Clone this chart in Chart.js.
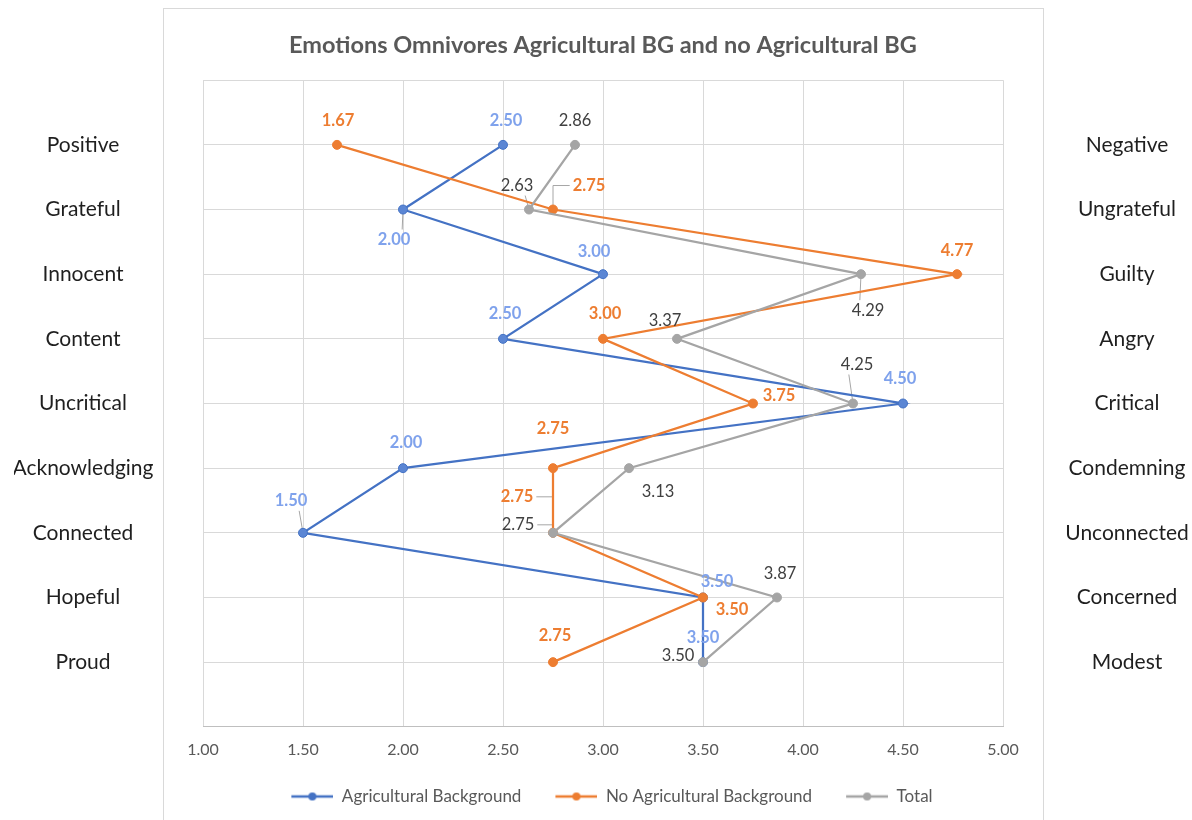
<!DOCTYPE html>
<html>
<head>
<meta charset="utf-8">
<title>Emotions Omnivores Agricultural BG and no Agricultural BG</title>
<script src="https://cdn.jsdelivr.net/npm/chart.js"></script>
<style>
  html, body { margin: 0; padding: 0; background: #fff; }
  #wrap { position: relative; width: 1192px; height: 820px; overflow: hidden; }
  #frame { position: absolute; left: 163px; top: 8px; width: 879px; height: 830px; border: 1px solid #d9d9d9; }
  canvas { position: absolute; left: 0; top: 0; }
</style>
</head>
<body>
<div id="wrap">
  <div id="frame"></div>
  <canvas id="chart" width="1192" height="820"></canvas>
</div>
<script>
const leftLabels = ['Positive', 'Grateful', 'Innocent', 'Content', 'Uncritical', 'Acknowledging', 'Connected', 'Hopeful', 'Proud'];
const rightLabels = ['Negative', 'Ungrateful', 'Guilty', 'Angry', 'Critical', 'Condemning', 'Unconnected', 'Concerned', 'Modest'];
const agricultural = [2.50, 2.00, 3.00, 2.50, 4.50, 2.00, 1.50, 3.50, 3.50];
const noAgricultural = [1.67, 2.75, 4.77, 3.00, 3.75, 2.75, 2.75, 3.50, 2.75];
const total = [2.86, 2.63, 4.29, 3.37, 4.25, 3.13, 2.75, 3.87, 3.50];
const xTicks = [1.00, 1.50, 2.00, 2.50, 3.00, 3.50, 4.00, 4.50, 5.00];
const seriesNames = ['Agricultural Background', 'No Agricultural Background', 'Total'];

// label offsets from the point [dx, dy, leader] (leader: 1 straight, 2 elbow)
const agrLabelPos = [[3, -24], [-9, 30, 1], [-9, -23], [2, -25], [-3, -25], [3, -25], [-12, -32, 1], [14, -16], [0, -24]];
const noAgrLabelPos = [[1, -24], [36, -24, 2], [0, -24], [2, -25], [26, -8], [0, -39], [-36, -36, 2], [29, 12], [2, -26]];
const totalLabelPos = [[0, -24], [-12, -24, 1], [7, 36, 1], [-12, -18], [4, -39, 1], [29, 24], [-35, -8, 2], [3, -24], [-25, -6]];

const fontFamily = 'Lato, "Open Sans", sans-serif';
const catSize = 21;
const labelSize = 16.5;

function widest(labels) {
  const c = document.createElement('canvas').getContext('2d');
  c.font = catSize + 'px ' + fontFamily;
  return Math.max(...labels.map(t => c.measureText(t).width));
}
const leftW = widest(leftLabels);
const rightW = widest(rightLabels);

const n = leftLabels.length;
const toPoints = arr => arr.map((v, i) => ({ x: v, y: n - i }));

// legend symbol: blank lead-in, then line with a dot
function legendIcon(color) {
  const c = document.createElement('canvas');
  c.width = 60; c.height = 10;
  const g = c.getContext('2d');
  g.strokeStyle = color; g.lineWidth = 2.5;
  g.beginPath(); g.moveTo(18, 5); g.lineTo(60, 5); g.stroke();
  g.fillStyle = color;
  g.beginPath(); g.arc(39, 5, 4, 0, Math.PI * 2); g.fill();
  return c;
}

const dataLabels = {
  id: 'dataLabels',
  beforeDatasetsDraw(chart) {
    const ctx = chart.ctx;
    ctx.save();
    ctx.strokeStyle = '#a6a6a6';
    ctx.lineWidth = 1;
    chart.data.datasets.forEach((ds, di) => {
      const meta = chart.getDatasetMeta(di);
      ctx.font = (ds.labelBold ? 'bold ' : '') + labelSize + 'px ' + fontFamily;
      meta.data.forEach((pt, i) => {
        const [dx, dy, leader] = ds.labelPos[i];
        if (!leader) return;
        const text = ds.data[i].x.toFixed(2);
        const w = ctx.measureText(text).width;
        const lx = pt.x + dx, ly = pt.y + dy;
        ctx.beginPath();
        if (leader === 2) {
          const sx = lx + (dx > 0 ? -w / 2 - 3 : w / 2 + 3);
          ctx.moveTo(sx, ly);
          ctx.lineTo(pt.x, ly);
          ctx.lineTo(pt.x, pt.y);
        } else if (Math.abs(dx) > w / 2) {
          ctx.moveTo(lx + (dx > 0 ? -w / 2 - 2 : w / 2 + 2), ly);
          ctx.lineTo(pt.x, pt.y);
        } else {
          ctx.moveTo(lx + (dx > 0 ? -w / 4 : dx < 0 ? w / 4 : 0), ly + (dy > 0 ? -10 : 10));
          ctx.lineTo(pt.x, pt.y);
        }
        ctx.stroke();
      });
    });
    ctx.restore();
  },
  afterDatasetsDraw(chart) {
    const ctx = chart.ctx;
    ctx.save();
    ctx.textAlign = 'center';
    ctx.textBaseline = 'middle';
    chart.data.datasets.forEach((ds, di) => {
      const meta = chart.getDatasetMeta(di);
      ctx.font = (ds.labelBold ? 'bold ' : '') + labelSize + 'px ' + fontFamily;
      ctx.fillStyle = ds.labelColor;
      meta.data.forEach((pt, i) => {
        const [dx, dy] = ds.labelPos[i];
        ctx.fillText(ds.data[i].x.toFixed(2), pt.x + dx, pt.y + dy);
      });
    });
    ctx.restore();
  }
};

function series(label, values, color, pointFill, labelPos, labelColor, labelBold, order) {
  return {
    label: label,
    data: toPoints(values),
    showLine: true,
    borderColor: color,
    backgroundColor: pointFill,
    pointBorderColor: color,
    pointBackgroundColor: pointFill,
    borderWidth: 2.25,
    pointRadius: 4.5,
    pointBorderWidth: 1,
    tension: 0,
    order: order,
    labelPos: labelPos,
    labelColor: labelColor,
    labelBold: labelBold,
    legendColor: color
  };
}

new Chart(document.getElementById('chart'), {
  type: 'scatter',
  data: {
    datasets: [
      series(seriesNames[0], agricultural, '#4472C4', '#5b86d4', agrLabelPos, '#7fa2ec', true, 3),
      series(seriesNames[1], noAgricultural, '#ED7D31', '#ED7D31', noAgrLabelPos, '#ED7D31', true, 2),
      series(seriesNames[2], total, '#A5A5A5', '#A5A5A5', totalLabelPos, '#404040', false, 1)
    ]
  },
  options: {
    responsive: false,
    animation: false,
    devicePixelRatio: 1,
    layout: { padding: { top: 3, bottom: 5, left: 14, right: 0 } },
    scales: {
      x: {
        type: 'linear',
        min: 1,
        max: 5,
        afterBuildTicks: scale => { scale.ticks = xTicks.map(v => ({ value: v })); },
        ticks: {
          callback: v => Number(v).toFixed(2),
          color: '#595959',
          font: { family: fontFamily, size: 16 },
          padding: 13,
          maxRotation: 0
        },
        grid: { color: '#d9d9d9', drawTicks: false },
        border: { color: '#bfbfbf' }
      },
      y: {
        type: 'linear',
        position: 'left',
        min: 0,
        max: n + 1,
        afterBuildTicks: scale => { scale.ticks = Array.from({ length: n + 2 }, (_, i) => ({ value: i })); },
        afterFit: scale => { scale.width = 189; },
        ticks: {
          callback: v => (v >= 1 && v <= n ? leftLabels[n - v] : ''),
          color: '#1f1f1f',
          font: { family: fontFamily, size: catSize },
          crossAlign: 'center',
          padding: 203 - 83 - leftW / 2
        },
        grid: { color: '#d9d9d9', drawTicks: false },
        border: { display: false }
      },
      y2: {
        type: 'linear',
        position: 'right',
        min: 0,
        max: n + 1,
        afterBuildTicks: scale => { scale.ticks = Array.from({ length: n + 2 }, (_, i) => ({ value: i })); },
        afterFit: scale => { scale.width = 189; },
        ticks: {
          callback: v => (v >= 1 && v <= n ? rightLabels[n - v] : ''),
          color: '#1f1f1f',
          font: { family: fontFamily, size: catSize },
          crossAlign: 'center',
          padding: 1127 - 1003 - rightW / 2
        },
        grid: { display: false, drawTicks: false },
        border: { display: false }
      }
    },
    plugins: {
      title: {
        display: true,
        text: 'Emotions Omnivores Agricultural BG and no Agricultural BG',
        color: '#595959',
        font: { family: fontFamily, size: 23.5, weight: 'bold', lineHeight: 1.2 },
        padding: { top: 28, bottom: 21 }
      },
      legend: {
        position: 'bottom',
        labels: {
          usePointStyle: true,
          pointStyleWidth: 60,
          color: '#595959',
          font: { family: fontFamily, size: 17 },
          padding: 16,
          generateLabels: chart => chart.data.datasets.map((ds, i) => ({
            text: ds.label,
            pointStyle: legendIcon(ds.legendColor),
            fillStyle: ds.legendColor,
            strokeStyle: ds.legendColor,
            lineWidth: 0,
            hidden: false,
            datasetIndex: i,
            fontColor: '#595959'
          }))
        }
      },
      tooltip: { enabled: false }
    }
  },
  plugins: [dataLabels]
});
</script>
</body>
</html>
